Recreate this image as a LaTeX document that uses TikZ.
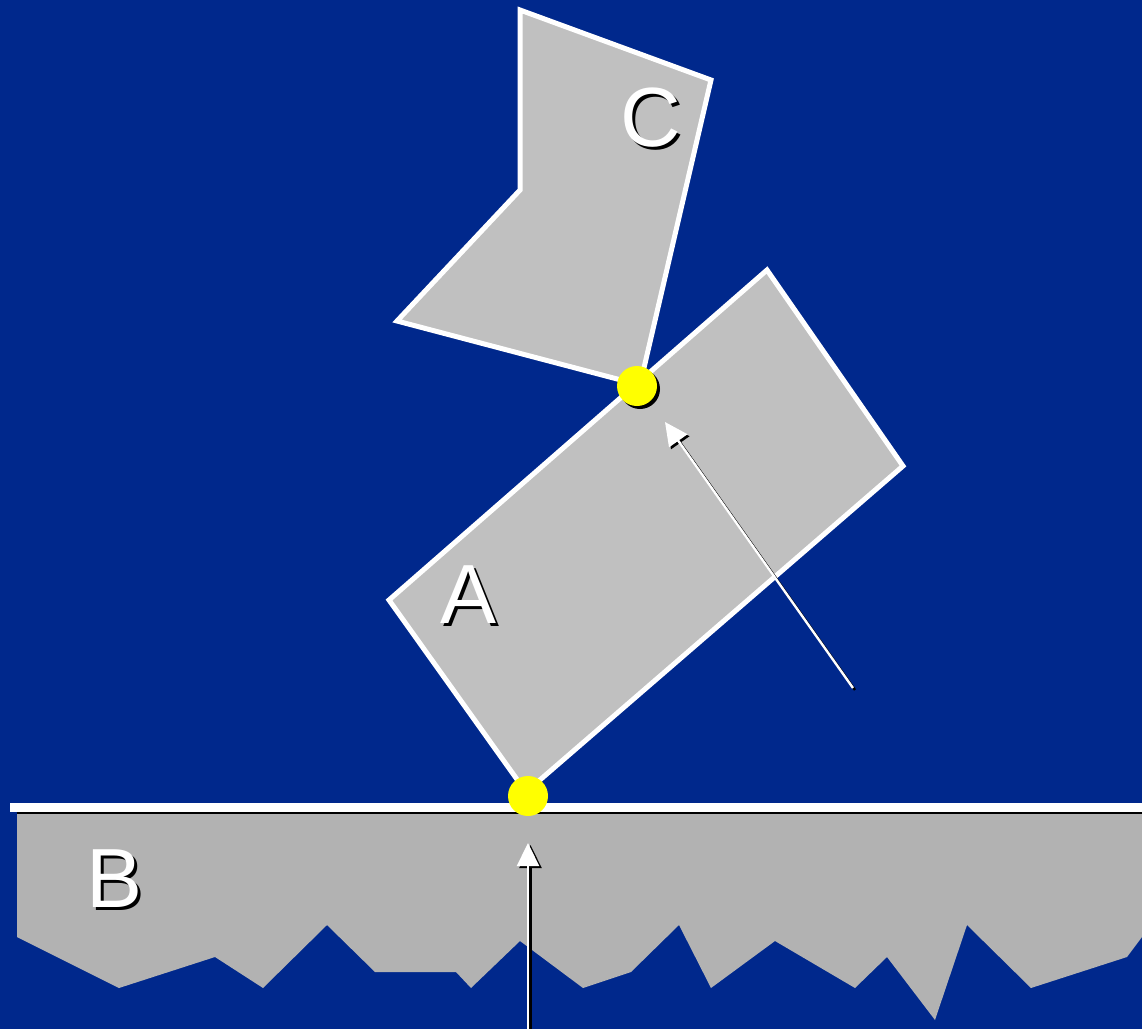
\documentclass[tikz,border=0pt]{standalone}
\usepackage{fontspec}
\setmainfont{Liberation Sans}
\usetikzlibrary{arrows.meta}
\definecolor{slidebg}{RGB}{0,40,140}
\definecolor{bodygray}{RGB}{192,192,192}
\definecolor{groundgray}{RGB}{178,178,178}
\definecolor{jointyellow}{RGB}{255,255,0}
\begin{document}
\begin{tikzpicture}[x=0.5pt, y=-0.5pt,
  body/.style={draw=white, line width=2.5pt, fill=bodygray, line join=miter},
  joint/.style={circle, fill=jointyellow, minimum size=20pt, inner sep=0pt},
  jointshadow/.style={circle, fill=black, minimum size=20pt, inner sep=0pt},
  lbl/.style={text=white, inner sep=0pt, font=\fontsize{42}{42}\selectfont},
  lblshadow/.style={text=black, inner sep=0pt, font=\fontsize{42}{42}\selectfont},
  force/.style={white, line width=1.2pt, -{Triangle[length=11.5pt,width=11pt]}},
  forceshadow/.style={black, line width=1.2pt, -{Triangle[length=11.5pt,width=11pt]}}
]
\fill[slidebg] (0,0) rectangle (1142,1029);
\useasboundingbox (0,0) rectangle (1142,1029);

\fill[groundgray] (17,813) -- (1142,813) -- (1142,937) -- (1127,957) -- (1031,988)
  -- (967,925) -- (935,1020) -- (887,957) -- (855,988) -- (775,941) -- (711,988)
  -- (679,925) -- (631,972) -- (583,988) -- (520,941) -- (471,988) -- (456,972)
  -- (375,972) -- (327,925) -- (263,988) -- (215,957) -- (119,988) -- (17,937) -- cycle;
\draw[black, line width=1pt] (17,813) -- (1142,813);
\draw[white, line width=4.5pt] (10,807) -- (1142,807);

\draw[body] (389,600) -- (767,270) -- (903,466) -- (526,792) -- cycle;
\draw[body] (520,10) -- (711,80) -- (640,385) -- (397,321) -- (520,190) -- cycle;

\node[jointshadow] (jointACs) at (640,389) {};
\node[joint] (jointAC) at (637,386) {};
\node[joint] (jointAB) at (528,796) {};

\coordinate (fCtail) at (853,688);
\coordinate (fCtip) at (665,422);
\coordinate (fBtail) at (528,1029);
\coordinate (fBtip) at (528,843);
\draw[forceshadow] ([shift={(2,2)}]fCtail) -- ([shift={(2,2)}]fCtip);
\draw[force] (fCtail) -- (fCtip);
\draw[forceshadow] ([shift={(2.5,2)}]fBtail) -- ([shift={(2.5,2)}]fBtip);
\draw[force] (fBtail) -- (fBtip);

\node[lblshadow] (labAs) at (472,598) {A};
\node[lbl] (labA) at (469,595) {A};
\node[lblshadow] (labCs) at (654,121) {C};
\node[lbl] (labC) at (651,118) {C};
\node[lblshadow] (labBs) at (118,882) {B};
\node[lbl] (labB) at (115,879) {B};
\end{tikzpicture}
\end{document}
